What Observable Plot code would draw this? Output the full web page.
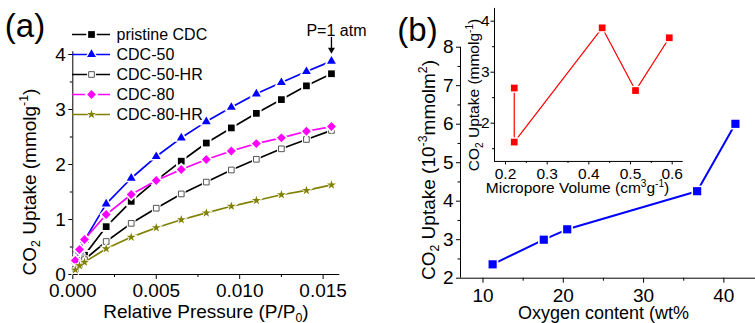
<!DOCTYPE html>
<html><head><meta charset="utf-8">
<script src="https://cdn.jsdelivr.net/npm/d3@7"></script>
<script src="https://cdn.jsdelivr.net/npm/@observablehq/plot@0.6"></script>
<style>
html,body{margin:0;padding:0;background:#fff;}
#wrap{position:relative;width:755px;height:323px;overflow:hidden;font-family:"Liberation Sans",Arial,sans-serif;color:#000;}
#wrap svg{position:absolute;left:0;top:0;max-width:none;}
.t{position:absolute;white-space:nowrap;line-height:1;transform:translate(-50%,-50%);}
.t.r{transform:translate(-50%,-50%) rotate(-90deg);}
.t sub,.t sup{font-size:65%;line-height:0;}
</style></head><body><div id="wrap"></div>
<script>
// ---------- Panel (a) data ----------
const pressure = [0.00015,0.0004,0.0007,0.002,0.0035,0.005,0.0065,0.008,0.0095,0.011,0.0125,0.014,0.0155];
const seriesNames = ["pristine CDC","CDC-50","CDC-50-HR","CDC-80","CDC-80-HR"];
const pristineCDC = [0.14,0.25,0.35,0.87,1.33,1.71,2.06,2.39,2.665,2.93,3.18,3.43,3.65];
const cdc50      = [0.25,0.43,0.62,1.285,1.75,2.145,2.485,2.78,3.04,3.285,3.49,3.69,3.88];
const cdc50HR    = [0.10,0.18,0.27,0.60,0.93,1.205,1.465,1.68,1.90,2.095,2.285,2.455,2.62];
const cdc80      = [0.255,0.455,0.636,1.09,1.455,1.71,1.91,2.09,2.245,2.38,2.485,2.605,2.69];
const cdc80HR    = [0.085,0.16,0.225,0.467,0.68,0.85,0.995,1.12,1.24,1.345,1.45,1.53,1.63];
const xTicksA = [0,0.005,0.010,0.015];
const xMinorA = [0.0025,0.0075,0.0125];
const yTicksA = [0,1,2,3,4];
const yMinorA = [0.5,1.5,2.5,3.5];
const annotationText = "P=1 atm";

// ---------- Panel (b) data ----------
const oxygen = [11.2,17.57,20.49,36.67,41.44];
const uptakeArea = [2.36,3.0,3.27,4.26,6.01];
const xTicksB = [10,20,30,40];
const xMinorB = [15,25,35];
const yTicksB = [2,3,4,5,6,7,8];
const yMinorB = [2.5,3.5,4.5,5.5,6.5,7.5];

// ---------- Inset data ----------
const microporeVolume = [0.221,0.221,0.432,0.512,0.593];
const uptakeInset = [2.69,1.63,3.87,2.64,3.675];
const xTicksI = [0.2,0.3,0.4,0.5,0.6];
const xMinorI = [0.25,0.35,0.45,0.55];
const yTicksI = [2,3,4];
const yMinorI = [1.5,2.5,3.5];

// ---------- styles ----------
const W = 755, H = 323;
const FONT = "Liberation Sans, Arial, sans-serif";
const seriesValues = [pristineCDC,cdc50,cdc50HR,cdc80,cdc80HR];
const seriesStyle = {
  "pristine CDC": {line:"#000000", symbol:"square",   fill:"#000000", stroke:"none", r:3.8},
  "CDC-50":       {line:"#0000ff", symbol:"triangle", fill:"#0000ff", stroke:"none", r:3.3},
  "CDC-50-HR":    {line:"#000000", symbol:"square",   fill:"#ffffff", stroke:"#555555", r:3.2},
  "CDC-80":       {line:"#ff00ff", symbol:"diamond2", fill:"#ff00ff", stroke:"none", r:4.0},
  "CDC-80-HR":    {line:"#808000", symbol:"star",     fill:"#808000", stroke:"none", r:2.8}
};
const rowsA = seriesNames.flatMap((s,i) => pressure.map((p,j) => ({s, p, v: seriesValues[i][j]})));

const wrap = document.getElementById("wrap");
const baseStyle = (fs) => ({background:"transparent", fontFamily:FONT, fontSize:fs, overflow:"visible", color:"#000"});

function seriesMarks(s) {
  const st = seriesStyle[s];
  const d = rowsA.filter(r => r.s === s);
  return [
    Plot.line(d, {x:"p", y:"v", stroke:st.line, strokeWidth:1.7}),
    Plot.dot(d, {x:"p", y:"v", symbol:st.symbol, r:st.r*1.55, fill:"#ffffff", stroke:"none"}),
    Plot.dot(d, {x:"p", y:"v", symbol:st.symbol, r:st.r, fill:st.fill, stroke:st.stroke, strokeWidth:1})
  ];
}

// ---------- Panel (a) ----------
const xDomA = [0,0.016], yDomA = [0,4.05];
const lastPoint = [{p: pressure[pressure.length-1], v: cdc50[cdc50.length-1]}];
const plotA = Plot.plot({
  width:W, height:H, style:baseStyle("19px"),
  marginLeft:72.3, marginRight:W-339.3, marginTop:51.25, marginBottom:49,
  x:{domain:xDomA}, y:{domain:yDomA},
  marks:[
    Plot.ruleX([xDomA[0]], {stroke:"#000", strokeWidth:1}),
    Plot.ruleY([yDomA[0]], {stroke:"#000", strokeWidth:1}),
    Plot.axisX(xTicksA, {tickSize:5, tickPadding:4, tickFormat:d3.format(".3f"), label:null}),
    Plot.axisX(xMinorA, {tickSize:3, tickFormat:()=>"", label:null}),
    Plot.axisY(yTicksA, {tickSize:4, tickPadding:3, tickFormat:d3.format("d"), label:null}),
    Plot.axisY(yMinorA, {tickSize:2.5, tickFormat:()=>"", label:null}),
    ...seriesNames.flatMap(seriesMarks),
    Plot.ruleX(lastPoint, {x:"p", y1:d=>d.v+0.43, y2:d=>d.v+0.2, stroke:"#000", strokeWidth:1.3}),
    Plot.dot(lastPoint, {x:"p", y:d=>d.v+0.205, symbol:"triangle", rotate:180, r:2.6, fill:"#000", stroke:"none"}),
    Plot.text(lastPoint, {x:"p", y:d=>d.v+0.43, text:()=>annotationText, dy:-7, dx:5, fontSize:16, fill:"#000"})
  ]
});
wrap.appendChild(plotA);

// ---------- Legend (a) ----------
const legendData = seriesNames.map(s => ({s}));
const plotLegend = Plot.plot({
  width:W, height:H, style:baseStyle("16px"),
  marginLeft:72, marginRight:W-110, marginTop:32.3, marginBottom:H-116,
  x:{domain:[0,1], axis:null}, y:{type:"point", domain:seriesNames, padding:0, axis:null},
  marks:[
    ...seriesNames.map(s => Plot.ruleY(legendData.filter(d=>d.s===s), {y:"s", x1:0, x2:1, stroke:seriesStyle[s].line, strokeWidth:1.7})),
    ...seriesNames.map(s => Plot.dot(legendData.filter(d=>d.s===s), {x:0.5, y:"s", symbol:seriesStyle[s].symbol, r:seriesStyle[s].r*1.55, fill:"#fff", stroke:"none"})),
    ...seriesNames.map(s => Plot.dot(legendData.filter(d=>d.s===s), {x:0.5, y:"s", symbol:seriesStyle[s].symbol, r:seriesStyle[s].r, fill:seriesStyle[s].fill, stroke:seriesStyle[s].stroke, strokeWidth:1})),
    Plot.text(legendData, {x:1, y:"s", text:"s", dx:6, textAnchor:"start", fontSize:16, fill:"#000"})
  ]
});
wrap.appendChild(plotLegend);

// ---------- Panel (b) ----------
const rowsB = oxygen.map((o,i) => ({o, u: uptakeArea[i]}));
const xDomB = [7.198,43.94], yDomB = [2,8];
const plotB = Plot.plot({
  width:W, height:H, style:baseStyle("19px"),
  marginLeft:460, marginRight:0, marginTop:46.7, marginBottom:H-277.7,
  x:{domain:xDomB}, y:{domain:yDomB},
  marks:[
    Plot.ruleX([xDomB[0]], {stroke:"#000", strokeWidth:1}),
    Plot.ruleY([yDomB[0]], {stroke:"#000", strokeWidth:1}),
    Plot.axisX(xTicksB, {tickSize:5, tickPadding:5, tickFormat:d3.format("d"), label:null}),
    Plot.axisX(xMinorB, {tickSize:3, tickFormat:()=>"", label:null}),
    Plot.axisY(yTicksB, {tickSize:4, tickPadding:3, tickFormat:d3.format("d"), label:null}),
    Plot.axisY(yMinorB, {tickSize:2.5, tickFormat:()=>"", label:null}),
    Plot.line(rowsB, {x:"o", y:"u", stroke:"#0000ff", strokeWidth:2}),
    Plot.dot(rowsB, {x:"o", y:"u", symbol:"square", r:4.6*1.4, fill:"#fff", stroke:"none"}),
    Plot.dot(rowsB, {x:"o", y:"u", symbol:"square", r:4.6, fill:"#0000ff", stroke:"none"})
  ]
});
wrap.appendChild(plotB);

// ---------- Inset ----------
const rowsI = microporeVolume.map((m,i) => ({m, u: uptakeInset[i]}));
const xDomI = [0.1736,0.6264], yDomI = [1.25,4.25];
const plotI = Plot.plot({
  width:W, height:H, style:baseStyle("15.5px"),
  marginLeft:494, marginRight:W-682.7, marginTop:7.95, marginBottom:H-160.95,
  x:{domain:xDomI}, y:{domain:yDomI},
  marks:[
    Plot.ruleX([xDomI[0]], {stroke:"#000", strokeWidth:1}),
    Plot.ruleY([yDomI[0]], {stroke:"#000", strokeWidth:1}),
    Plot.axisX(xTicksI, {tickSize:3.5, tickPadding:3, tickFormat:d3.format(".1f"), label:null}),
    Plot.axisX(xMinorI, {tickSize:2, tickFormat:()=>"", label:null}),
    Plot.axisY(yTicksI, {tickSize:3.5, tickPadding:1.5, tickFormat:d3.format("d"), label:null}),
    Plot.axisY(yMinorI, {tickSize:2, tickFormat:()=>"", label:null}),
    Plot.line(rowsI, {x:"m", y:"u", stroke:"#ff0000", strokeWidth:1.2}),
    Plot.dot(rowsI, {x:"m", y:"u", symbol:"square", r:3.8*1.4, fill:"#fff", stroke:"none"}),
    Plot.dot(rowsI, {x:"m", y:"u", symbol:"square", r:3.8, fill:"#ff0000", stroke:"none"})
  ]
});
wrap.appendChild(plotI);

// ---------- Titles / labels (HTML text with sub/superscripts) ----------
function label(html, cx, cy, fs, rot) {
  const d = document.createElement("div");
  d.className = "t" + (rot ? " r" : "");
  d.style.left = cx + "px"; d.style.top = cy + "px"; d.style.fontSize = fs + "px";
  d.innerHTML = html;
  wrap.appendChild(d);
}
label("(a)", 25, 25, 33);
label("(b)", 417.5, 29, 33);
label("CO<sub>2</sub> Uptake (mmolg<sup>-1</sup>)", 29, 182, 19, true);
label("Relative Pressure (P/P<sub>0</sub>)", 206, 311, 19);
label("CO<sub>2</sub> Uptake (10<sup>-3</sup>mmolm<sup>2</sup>)", 428, 170, 19, true);
label("Oxygen content (wt%", 603.5, 313, 18);
label("CO<sub>2</sub> Uptake (mmolg<sup>-1</sup>)", 474, 95, 15.5, true);
label("Micropore Volume (cm<sup>3</sup>g<sup>-1</sup>)", 577.5, 188, 15.5);
</script></body></html>
